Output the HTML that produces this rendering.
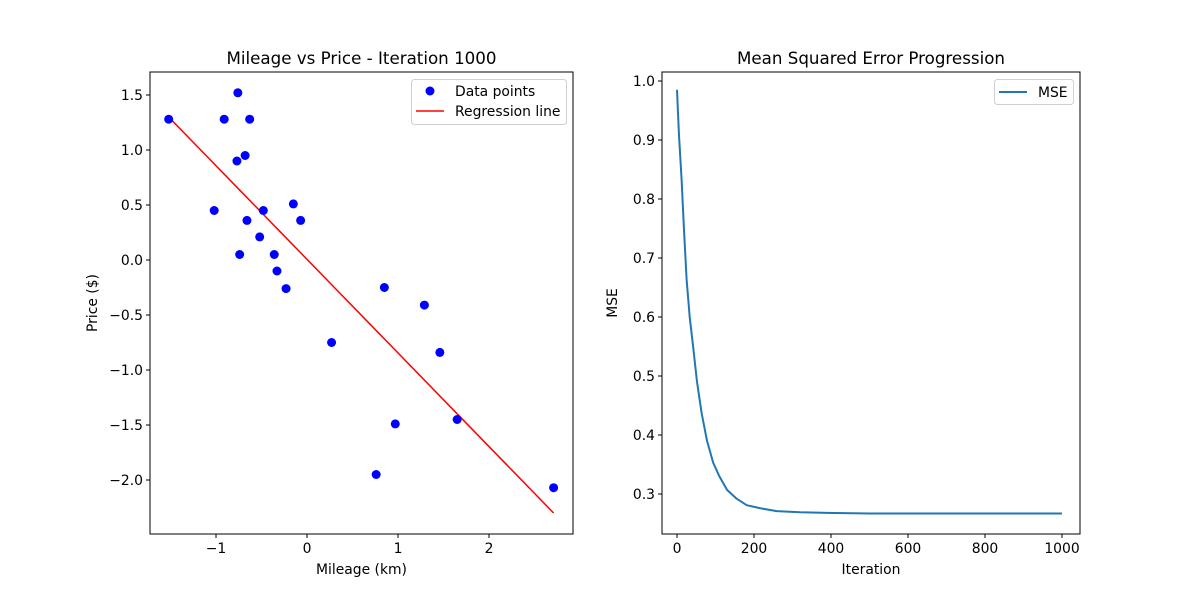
<!DOCTYPE html>
<html><head><meta charset="utf-8"><style>
body{margin:0;background:#fff}
svg{display:block;font-family:"DejaVu Sans","Liberation Sans",sans-serif}
</style></head><body>
<svg id="c" width="1200" height="600"></svg>
<script>
const pointsX=[-1.52,-0.91,-0.76,-0.63,-0.77,-0.68,-1.02,-0.66,-0.48,-0.15,-0.07,-0.52,-0.74,-0.36,-0.33,-0.23,0.27,0.85,1.29,1.46,0.97,0.76,1.65,2.71];
const pointsY=[1.28,1.28,1.52,1.28,0.90,0.95,0.45,0.36,0.45,0.51,0.36,0.21,0.05,0.05,-0.10,-0.26,-0.75,-0.25,-0.41,-0.84,-1.49,-1.95,-1.45,-2.07];
const slope=-0.851, intercept=0.006;
const iterations=[0,5,12,18,25,33,42,52,64,78,94,110,130,155,181,215,259,320,390,500,600,800,1000];
const mseValues=[0.985,0.91,0.832,0.75,0.663,0.60,0.549,0.49,0.437,0.39,0.353,0.33,0.307,0.292,0.281,0.276,0.271,0.269,0.268,0.267,0.267,0.267,0.267];
const leftXTicks=[-1,0,1,2], leftYTicks=[-2.0,-1.5,-1.0,-0.5,0.0,0.5,1.0,1.5];
const rightXTicks=[0,200,400,600,800,1000], rightYTicks=[0.3,0.4,0.5,0.6,0.7,0.8,0.9,1.0];
const NS='http://www.w3.org/2000/svg', svg=document.getElementById('c');
function el(t,a,p){const e=document.createElementNS(NS,t);for(const k in a)e.setAttribute(k,a[k]);(p||svg).appendChild(e);return e;}
function txt(s,a,p){const e=el('text',a,p);e.textContent=s;return e;}
function lin(d0,d1,r0,r1){return v=>r0+(v-d0)/(d1-d0)*(r1-r0);}
function fmt(v,d){return (v<0?'\u2212':'')+Math.abs(v).toFixed(d);}
const FS=13.9, TS=16.7;
function axes(name,L,T,R,B,sx,sy,xt,yt,xd,yd,title,xl,yl,ylx){
  const g=el('g',{});
  xt.forEach(v=>{const x=sx(v);el('line',{x1:x,x2:x,y1:B,y2:B+4,stroke:'#000'},g);const t=txt(fmt(v,xd),{x:x,y:B+19,'font-size':FS,'text-anchor':'middle'},g);});
  yt.forEach(v=>{const y=sy(v);el('line',{x1:L-4,x2:L,y1:y,y2:y,stroke:'#000'},g);const t=txt(fmt(v,yd),{x:L-7,y:y+5,'font-size':FS,'text-anchor':'end'},g);});
  const t1=txt(title,{x:(L+R)/2,y:T-8,'font-size':TS,'text-anchor':'middle'},g);
  const t2=txt(xl,{x:(L+R)/2,y:B+40,'font-size':FS,'text-anchor':'middle'},g);
  const t3=txt(yl,{x:ylx,y:(T+B)/2,'font-size':FS,'text-anchor':'middle',transform:`rotate(-90 ${ylx} ${(T+B)/2})`},g);
  return g;
}
// left
const L1=150,T1=72,R1=573,B1=534;
const sx1=lin(0,1,307,398), sy1=lin(0,1,260,150);
axes('scatter-axes',L1,T1,R1,B1,sx1,sy1,leftXTicks,leftYTicks,0,1,'Mileage vs Price - Iteration 1000','Mileage (km)','Price ($)',97);
const lp=pointsX.map(x=>sx1(x)+','+sy1(slope*x+intercept)).join(' ');
const rl=el('polyline',{points:lp,fill:'none',stroke:'#ff0000','stroke-width':1.5});

pointsX.forEach((x,i)=>{const c=el('circle',{cx:sx1(x),cy:sy1(pointsY[i]),r:4.5,fill:'#0000ff'});});
const f1=el('rect',{x:L1,y:T1,width:R1-L1,height:B1-T1,fill:'none',stroke:'#000','stroke-width':1});

const lg1=el('g',{});
el('rect',{x:411.5,y:79.5,width:155,height:45,rx:3,fill:'#fff',stroke:'#d0d0d0'},lg1);
el('circle',{cx:430,cy:91,r:4.5,fill:'#0000ff'},lg1);
txt('Data points',{x:455,y:96,'font-size':FS},lg1);
el('line',{x1:416,x2:444,y1:111,y2:111,stroke:'#ff0000','stroke-width':1.5},lg1);
txt('Regression line',{x:455,y:116,'font-size':FS},lg1);
// right
const L2=662,T2=72,R2=1080,B2=534;
const sx2=lin(0,1000,677,1062), sy2=lin(0.3,1.0,494,81);
axes('mse-axes',L2,T2,R2,B2,sx2,sy2,rightXTicks,rightYTicks,0,1,'Mean Squared Error Progression','Iteration','MSE',617);
const mp=iterations.map((x,i)=>sx2(x)+','+sy2(mseValues[i])).join(' ');
const ml=el('polyline',{points:mp,fill:'none',stroke:'#1f77b4','stroke-width':2,'stroke-linejoin':'round'});

const f2=el('rect',{x:L2,y:T2,width:R2-L2,height:B2-T2,fill:'none',stroke:'#000','stroke-width':1});

const lg2=el('g',{});
el('rect',{x:994.5,y:79.5,width:79,height:25,rx:3,fill:'#fff',stroke:'#d0d0d0'},lg2);
el('line',{x1:999,x2:1027,y1:92,y2:92,stroke:'#1f77b4','stroke-width':2},lg2);
txt('MSE',{x:1038,y:97,'font-size':FS},lg2);
</script>
</body></html>
